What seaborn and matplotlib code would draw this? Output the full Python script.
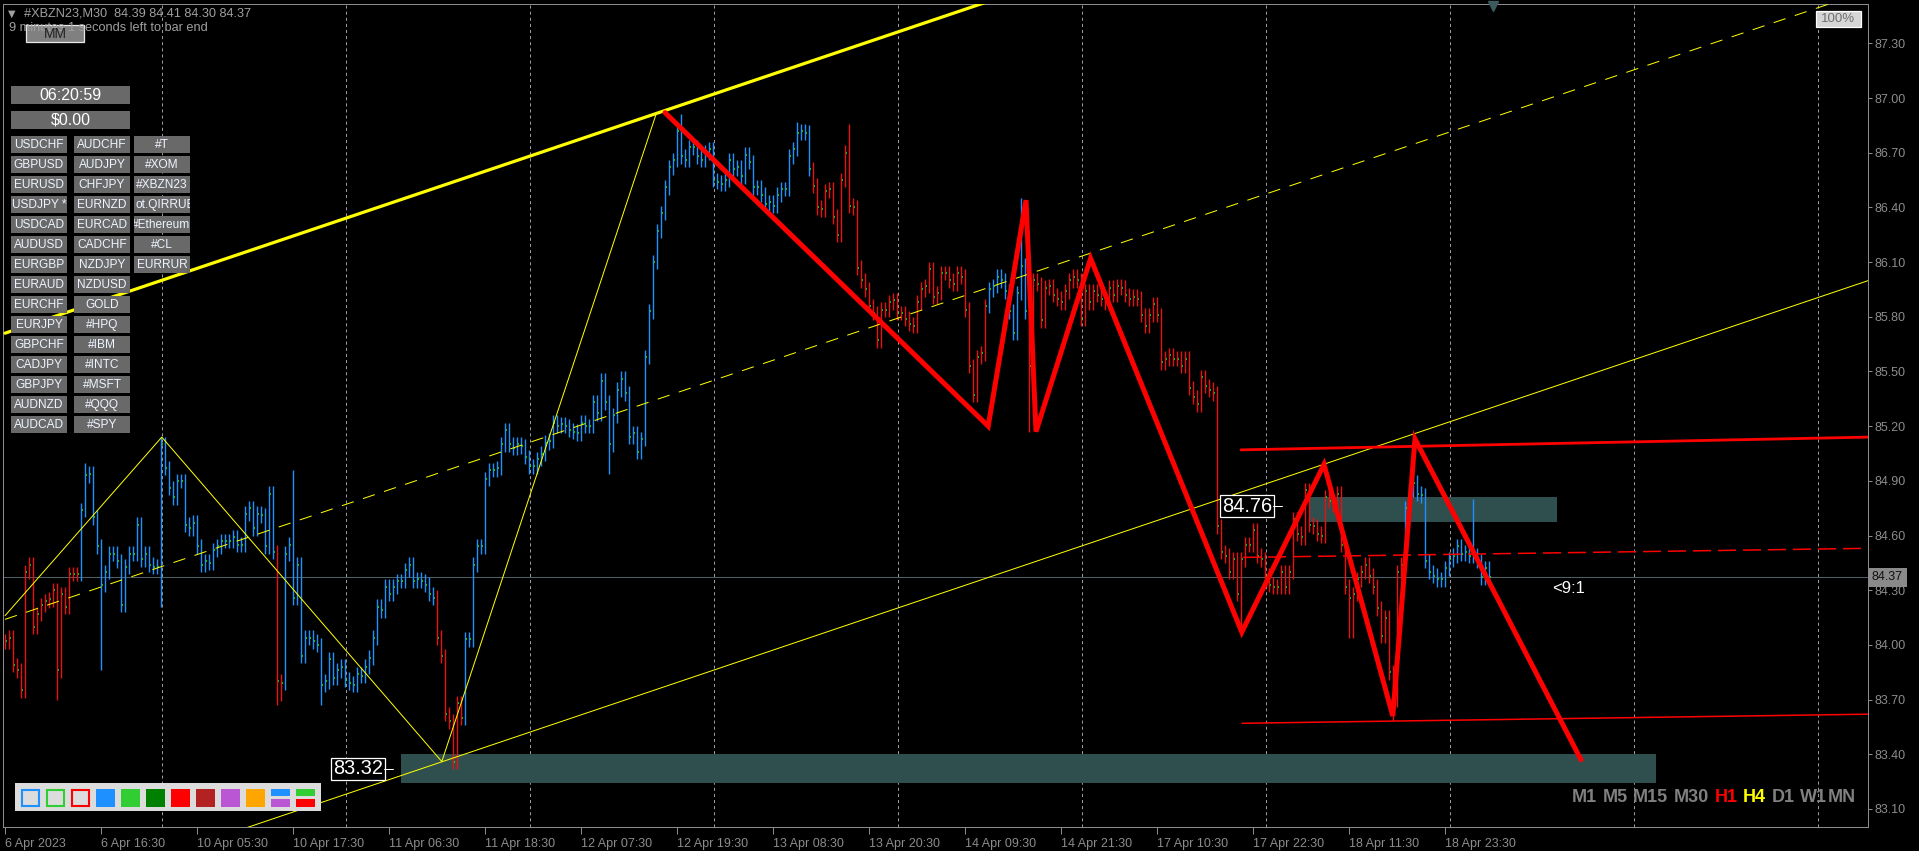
import numpy as np
import pandas as pd
import seaborn as sns
import matplotlib.pyplot as plt
from matplotlib.patches import Rectangle

W, H = 1919, 851

# M30 closing prices (bar 0 = first visible bar)
closes = [
    84.02, 84.04, 83.89, 83.86, 83.75, 84.40, 84.44, 84.10, 84.17, 84.22,
    84.24, 84.25, 84.30, 83.86, 84.28, 84.21, 84.39, 84.39, 84.39, 84.74,
    84.93, 84.94, 84.70, 84.54, 84.33, 84.40, 84.50, 84.50, 84.46, 84.22,
    84.43, 84.50, 84.50, 84.66, 84.47, 84.50, 84.44, 84.43, 84.43, 85.10,
    84.97, 84.86, 84.81, 84.90, 84.90, 84.66, 84.64, 84.67, 84.54, 84.44,
    84.46, 84.45, 84.52, 84.54, 84.57, 84.57, 84.57, 84.59, 84.55, 84.55,
    84.72, 84.75, 84.64, 84.72, 84.71, 84.54, 84.83, 84.51, 83.80, 83.79,
    84.50, 84.55, 84.26, 84.44, 83.94, 84.04, 84.04, 84.02, 84.00, 83.78,
    83.80, 83.92, 83.82, 83.86, 83.88, 83.81, 83.79, 83.78, 83.84, 83.83,
    83.88, 83.93, 84.04, 84.21, 84.19, 84.32, 84.28, 84.32, 84.35, 84.35,
    84.41, 84.44, 84.35, 84.36, 84.35, 84.33, 84.28, 84.26, 84.04, 83.94,
    83.62, 83.58, 83.36, 83.68, 83.60, 84.03, 84.03, 84.44, 84.54, 84.54,
    84.91, 84.96, 84.96, 84.97, 85.10, 85.18, 85.10, 85.08, 85.10, 85.09,
    85.03, 84.98, 84.98, 85.02, 85.05, 85.11, 85.12, 85.22, 85.20, 85.21,
    85.20, 85.18, 85.17, 85.16, 85.22, 85.20, 85.20, 85.33, 85.27, 85.45,
    85.33, 85.10, 85.26, 85.40, 85.46, 85.38, 85.14, 85.16, 85.06, 85.13,
    85.58, 85.83, 86.10, 86.27, 86.37, 86.51, 86.62, 86.66, 86.82, 86.68,
    86.66, 86.73, 86.73, 86.68, 86.66, 86.70, 86.72, 86.55, 86.54, 86.53,
    86.55, 86.66, 86.61, 86.62, 86.57, 86.69, 86.65, 86.51, 86.51, 86.47,
    86.42, 86.43, 86.41, 86.47, 86.50, 86.50, 86.68, 86.72, 86.81, 86.82,
    86.81, 86.61, 86.52, 86.40, 86.39, 86.49, 86.50, 86.35, 86.25, 86.55,
    86.70, 86.41, 86.40, 86.07, 86.00, 85.95, 85.86, 85.82, 85.67, 85.84,
    85.84, 85.88, 85.89, 85.82, 85.82, 85.79, 85.76, 85.75, 85.88, 85.95,
    85.97, 86.06, 85.91, 85.93, 86.04, 86.04, 86.00, 85.98, 86.04, 86.02,
    85.84, 85.53, 85.37, 85.58, 85.60, 85.86, 85.95, 85.97, 86.02, 86.00,
    85.94, 85.83, 85.71, 85.93, 86.08, 85.83, 85.53, 86.00, 85.98, 85.78,
    85.96, 85.97, 85.92, 85.90, 85.88, 85.94, 86.00, 86.02, 86.00, 85.79,
    85.94, 85.88, 85.94, 85.92, 85.90, 85.88, 85.96, 85.92, 85.97, 85.96,
    85.92, 85.90, 85.91, 85.90, 85.81, 85.75, 85.81, 85.87, 85.81, 85.55,
    85.57, 85.59, 85.57, 85.57, 85.53, 85.57, 85.41, 85.36, 85.32, 85.47,
    85.42, 85.40, 85.38, 84.65, 84.51, 84.49, 84.40, 84.47, 84.28, 84.47,
    84.55, 84.55, 84.63, 84.49, 84.47, 84.38, 84.33, 84.32, 84.32, 84.40,
    84.32, 84.40, 84.69, 84.61, 84.59, 84.85, 84.66, 84.65, 84.61, 84.60,
    84.81, 84.79, 84.77, 84.83, 84.55, 84.32, 84.26, 84.28, 84.36, 84.40,
    84.44, 84.38, 84.32, 84.20, 84.05, 84.15, 83.85, 83.70, 84.40, 84.44,
    84.75, 84.85, 84.89, 84.83, 84.82, 84.46, 84.40, 84.38, 84.36, 84.36,
    84.42, 84.47, 84.49, 84.54, 84.50, 84.51, 84.49, 84.49, 84.46, 84.37,
    84.42, 84.37,
]

# bar colour runs (indicator trend)
run_lengths = [19, 49, 2, 38, 7, 87, 44, 10, 94, 22]
run_dirs = ['dn', 'up', 'dn', 'up', 'dn', 'up', 'dn', 'up', 'dn', 'up']

# long shadows that stick out of the bars
spike_hi_bars = [20, 39, 72, 125, 169, 198, 211, 254, 352, 367]
spike_hi_vals = [85.00, 85.14, 84.96, 85.22, 86.91, 86.87, 86.86, 86.45, 85.12, 84.80]
spike_lo_bars = [13, 24, 39, 68, 69, 79, 112, 151, 256, 309, 336, 337, 347]
spike_lo_vals = [83.70, 83.86, 84.21, 83.67, 83.69, 83.67, 83.35, 84.94, 85.17, 84.08, 84.04, 84.04, 83.58]

time_labels = ['6 Apr 2023', '6 Apr 16:30', '10 Apr 05:30', '10 Apr 17:30',
               '11 Apr 06:30', '11 Apr 18:30', '12 Apr 07:30', '12 Apr 19:30',
               '13 Apr 08:30', '13 Apr 20:30', '14 Apr 09:30', '14 Apr 21:30',
               '17 Apr 10:30', '17 Apr 22:30', '18 Apr 11:30', '18 Apr 23:30']
price_ticks = [83.10, 83.40, 83.70, 84.00, 84.30, 84.60, 84.90, 85.20,
               85.50, 85.80, 86.10, 86.40, 86.70, 87.00, 87.30]
bid = 84.37

# drawn objects (bar index, price)
zz_yellow_x = [0, 39.2, 109.2, 162.9]
zz_yellow_y = [84.16, 85.14, 83.36, 86.92]
zz_red_x = [165, 245.8, 255.25, 257.75, 271.4, 309.2, 329.75, 346.95, 352.5, 394]
zz_red_y = [86.92, 85.20, 86.44, 85.17, 86.12, 84.07, 84.99, 83.61, 85.13, 83.37]

chan_x = [0, 466]
chan_upper = [85.71, 89.16]
chan_mid = [84.14, 87.59]
chan_lower = [82.55, 86.00]

zone_low_x = [99, 412.75]
zone_low_y = [83.24, 83.40]
zone_high_x = [326, 388]
zone_high_y = [84.675, 84.81]

res_x = [309, 466]
res_y = [85.07, 85.14]
sup_x = [309.25, 466]
sup_y = [83.57, 83.62]
midr_x = [309.5, 466]
midr_y = [84.48, 84.53]

lbl_low = (94.5, 83.32, '83.32')
lbl_high = (316.75, 84.76, '84.76')
ratio_lbl = (386.75, 84.31, '<9:1')

col1 = ['USDCHF', 'GBPUSD', 'EURUSD', 'USDJPY *', 'USDCAD', 'AUDUSD', 'EURGBP', 'EURAUD',
        'EURCHF', 'EURJPY', 'GBPCHF', 'CADJPY', 'GBPJPY', 'AUDNZD', 'AUDCAD']
col2 = ['AUDCHF', 'AUDJPY', 'CHFJPY', 'EURNZD', 'EURCAD', 'CADCHF', 'NZDJPY', 'NZDUSD',
        'GOLD', '#HPQ', '#IBM', '#INTC', '#MSFT', '#QQQ', '#SPY']
col3 = ['#T', '#XOM', '#XBZN23', 'ot.QIRRUB', '#Ethereum', '#CL', 'EURRUR']

palette = ['#1E90FF', '#32CD32', '#FF0000', '#1E90FF', '#32CD32', '#008000',
           '#FF0000', '#B22222', '#BA55D3', '#FFA500']
palette_split = [('#1E90FF', '#BA55D3'), ('#32CD32', '#FF0000')]

# ---- bars table
df = pd.DataFrame({'bar': np.arange(len(closes)), 'close': closes})
df['open'] = df['close'].shift(1).fillna(df['close'])
wick = 0.04
df['high'] = df[['open', 'close']].max(axis=1) + wick
df['low'] = df[['open', 'close']].min(axis=1) - wick
for b, v in zip(spike_hi_bars, spike_hi_vals):
    df.loc[b, 'high'] = max(df.loc[b, 'high'], v)
for b, v in zip(spike_lo_bars, spike_lo_vals):
    df.loc[b, 'low'] = min(df.loc[b, 'low'], v)
df['trend'] = np.repeat(run_dirs, run_lengths)

sns.set_theme(style='dark', rc={'axes.facecolor': 'black', 'figure.facecolor': 'black'})
plt.rcParams['font.family'] = ['Liberation Sans', 'DejaVu Sans']
plt.rcParams['lines.scale_dashes'] = False

fig = plt.figure(figsize=(W / 100, H / 100), dpi=100, facecolor='black')
ax = fig.add_axes([3 / W, 1 - 827 / H, (1868 - 3) / W, (827 - 4) / H])
ax.set_facecolor('black')
ax.set_xlim(-0.5, 465.75)
ax.set_ylim(83.001, 87.516)

gray = '#8c8c8c'
px = 0.72  # one pixel in points

# vertical dashed grid
for gx in np.arange(39.2, 466, 46):
    ax.axvline(gx, color='#9a9a9a', lw=px, dashes=(2.2, 2.2), zorder=0.5)

# zones
for zx, zy in [(zone_low_x, zone_low_y), (zone_high_x, zone_high_y)]:
    ax.add_patch(Rectangle((zx[0], zy[0]), zx[1] - zx[0], zy[1] - zy[0],
                           facecolor='#2F4F4F', edgecolor='none', zorder=1))

ax.axhline(bid, color='#4b6166', lw=px, zorder=1.5)

# bars
bar_col = df['trend'].map({'up': '#1E90FF', 'dn': '#E81010'})
ax.vlines(df['bar'], df['low'], df['high'], colors=bar_col, lw=1.0, zorder=2)
ax.hlines(df['close'], df['bar'] + 0.2, df['bar'] + 0.55, colors='#00FF00', lw=1.1, zorder=2.1)


def sline(xs, ys, **kw):
    sns.lineplot(x=xs, y=ys, ax=ax, sort=False, estimator=None, legend=False, **kw)
    return ax.lines[-1]


# channel
sline(chan_x, chan_upper, color='#FFFF00', lw=2.3, zorder=3)
l = sline(chan_x, chan_mid, color='#FFFF00', lw=px, zorder=3)
l.set_dashes((9, 7))
sline(chan_x, chan_lower, color='#FFFF00', lw=px, zorder=3)
sline(zz_yellow_x, zz_yellow_y, color='#FFFF00', lw=px, zorder=3)

# red levels
sline(res_x, res_y, color='#FF0000', lw=2.0, zorder=3.5)
sline(sup_x, sup_y, color='#FF0000', lw=1.1, zorder=3.5)
l = sline(midr_x, midr_y, color='#FF0000', lw=1.1, zorder=3.5)
l.set_dashes((13, 5))

# red zigzag
l = sline(zz_red_x, zz_red_y, color='#FF0000', lw=3.6, zorder=4)
l.set_solid_joinstyle('miter')

# price labels on chart
for bx, by, txt in [lbl_low, lbl_high]:
    ax.text(bx, by, txt, ha='right', va='center', color='white', fontsize=14.4, zorder=6,
            bbox=dict(facecolor='black', edgecolor='white', lw=0.9, pad=1.2))
    ax.plot([bx + 0.2, bx + 2.6], [by, by], color='white', lw=px, zorder=6)
ax.text(ratio_lbl[0], ratio_lbl[1], ratio_lbl[2], ha='left', va='center', color='white',
        fontsize=12, zorder=6)

# axes styling
for s in ax.spines.values():
    s.set_color(gray)
    s.set_linewidth(px)
ax.yaxis.tick_right()
ax.set_yticks(price_ticks)
ax.set_yticklabels([f'{v:.2f}' for v in price_ticks])
ax.tick_params(axis='y', colors=gray, labelcolor=gray, labelsize=9, length=3, width=px, pad=2,
               right=True, left=False)
ax.set_xticks(np.arange(len(time_labels)) * 24)
ax.set_xticklabels(time_labels, ha='left')
ax.tick_params(axis='x', colors=gray, labelcolor=gray, labelsize=9, length=5, width=px, pad=3,
               bottom=True)
ax.set_xlabel('')
ax.set_ylabel('')
ax.grid(False)

ax.text(1.002, bid, '84.37', transform=ax.get_yaxis_transform(), ha='left', va='center',
        color='#101010', fontsize=9, zorder=6, clip_on=False,
        bbox=dict(facecolor='#8a8a8a', edgecolor='none', boxstyle='square,pad=0.3'))

# ---- overlay in pixel coordinates for terminal widgets
ov = fig.add_axes([0, 0, 1, 1], zorder=5)
ov.set_xlim(0, W)
ov.set_ylim(H, 0)
ov.axis('off')
ov.patch.set_alpha(0)

ov.text(8, 14, '\u25bc', color='#a0a0a0', fontsize=7, va='center', family=['DejaVu Sans'])
ov.text(24, 14, '#XBZN23,M30  84.39 84.41 84.30 84.37', color='#a0a0a0', fontsize=9.2, va='center')
ov.text(9, 28, '9 minutes 1 seconds left to bar end', color='#a0a0a0', fontsize=9.2, va='center')
ov.add_patch(Rectangle((26, 25), 58, 17, facecolor='#808080', edgecolor='#e8e8e8', lw=0.9))
ov.text(55, 34, 'MM', color='#202020', fontsize=10, ha='center', va='center')

ov.add_patch(Rectangle((1816, 11), 45, 16, facecolor='#d6d6d6', edgecolor='white', lw=0.9))
ov.text(1838.5, 19.5, '100%', color='#707070', fontsize=9.5, ha='center', va='center')
ov.plot([1493], [6], marker='v', color='#3d5a5e', markersize=7)

btn = '#696969'
ov.add_patch(Rectangle((11, 86), 119, 18, facecolor=btn, edgecolor='none'))
ov.text(70.5, 95.5, '06:20:59', color='white', fontsize=11.5, ha='center', va='center')
ov.add_patch(Rectangle((11, 111), 119, 18, facecolor=btn, edgecolor='none'))
ov.text(70.5, 120.5, '$0.00', color='white', fontsize=11.5, ha='center', va='center')

for cx, names in [(11, col1), (74, col2), (134, col3)]:
    for k, name in enumerate(names):
        y0 = 136 + 20 * k
        r = Rectangle((cx, y0), 56, 17, facecolor=btn, edgecolor='none')
        ov.add_patch(r)
        if name == 'ot.QIRRUB':
            t = ov.text(cx + 1, y0 + 9, name, color='#eef4ff', fontsize=8.6, ha='left', va='center')
        elif name == '#Ethereum':
            t = ov.text(cx + 56, y0 + 9, name, color='#eef4ff', fontsize=8.6, ha='right', va='center')
        else:
            t = ov.text(cx + 28, y0 + 9, name, color='#eef4ff', fontsize=8.6, ha='center', va='center')
        t.set_clip_on(True)
        t.set_clip_path(r)

# colour palette panel
ov.add_patch(Rectangle((15, 783), 306, 28, facecolor='#dcdcdc', edgecolor='none'))
for k, c in enumerate(palette):
    x0 = 21 + 25 * k
    if k < 3:
        ov.add_patch(Rectangle((x0 + 1, 790), 16.5, 15.5, facecolor='#dcdcdc', edgecolor=c, lw=1.5))
    else:
        ov.add_patch(Rectangle((x0, 789), 18.5, 17.5, facecolor=c, edgecolor='none'))
for k, (ct, cb) in enumerate(palette_split):
    x0 = 21 + 25 * (len(palette) + k)
    ov.add_patch(Rectangle((x0, 789), 18.5, 6.5, facecolor=ct, edgecolor='none'))
    ov.add_patch(Rectangle((x0, 799), 18.5, 7.5, facecolor=cb, edgecolor='none'))

# timeframe strip
tf_items = ['M1', 'M5', 'M15', 'M30', 'H1', 'H4', 'D1', 'W1', 'MN']
tf_gaps = [5.5, 5.5, 5.5, 5.5, 5.5, 5.5, 5.5, 1, 0]
tf_color = {'H1': '#FF0000', 'H4': '#FFFF00'}
renderer = fig.canvas.get_renderer()
x = 1572
for item, gap in zip(tf_items, tf_gaps):
    t = ov.text(x, 797, item, color=tf_color.get(item, '#808080'), fontsize=13,
                fontweight='bold', ha='left', va='center')
    bb = t.get_window_extent(renderer=renderer)
    x += bb.width + gap

fig.savefig('out.png', dpi=100, facecolor='black')
